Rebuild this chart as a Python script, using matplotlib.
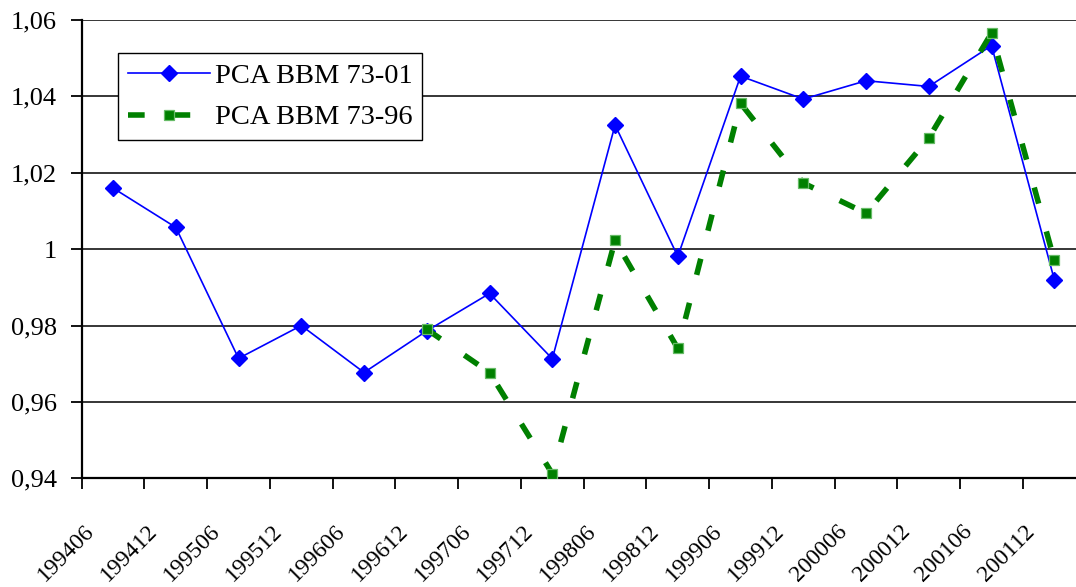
import matplotlib
matplotlib.use("Agg")
import matplotlib.pyplot as plt
import matplotlib.transforms as mtransforms
from matplotlib.ticker import FixedLocator, FuncFormatter

# Semi-annual periods
periods = ["199406", "199412", "199506", "199512", "199606", "199612",
           "199706", "199712", "199806", "199812", "199906", "199912",
           "200006", "200012", "200106", "200112"]

# PCA BBM estimated on 1973-2001
pca_73_01 = [1.016, 1.0057, 0.9714, 0.980, 0.9677, 0.9786, 0.9884, 0.9713,
             1.0325, 0.9981, 1.0453, 1.0393, 1.0441, 1.0426, 1.0533, 0.9920]

# PCA BBM estimated on 1973-1996 (available from 199612)
pca_73_96_start = 5
pca_73_96 = [0.979, 0.9677, 0.9412, 1.0023, 0.974, 1.0382, 1.0173, 1.0094,
             1.0291, 1.0566, 0.9971]

y_ticks = [0.94, 0.96, 0.98, 1.00, 1.02, 1.04, 1.06]

FONT = ["Liberation Serif", "DejaVu Serif"]
plt.rcParams["font.family"] = FONT
FS = 19
FS_X = 17
FS_LEG = 20.5

fig = plt.figure(figsize=(10.76, 5.87), dpi=100)
ax = fig.add_axes([0.0759, 0.1852, 0.9331, 0.7807])

x_blue = [i + 0.5 for i in range(len(periods))]
x_green = [pca_73_96_start + i + 0.5 for i in range(len(pca_73_96))]

ax.plot(x_blue, pca_73_01, color="#0000FF", lw=1.2, marker="D", ms=8,
        mfc="#0000FF", mec="#0000FF", label="PCA BBM 73-01", zorder=3)
ax.plot(x_green, pca_73_96, color="#008000", lw=4.0, dashes=(3.0, 5.2),
        marker="s", ms=7, mfc="#008000", mec="#66bb66", mew=0.9,
        label="PCA BBM 73-96", zorder=4)

ax.set_xlim(0, len(periods))
ax.set_ylim(0.94, 1.06)

ax.yaxis.set_major_locator(FixedLocator(y_ticks))

def comma_fmt(v, pos):
    s = f"{v:.2f}".rstrip("0").rstrip(".")
    return s.replace(".", ",")

ax.yaxis.set_major_formatter(FuncFormatter(comma_fmt))
ax.grid(axis="y", color="black", lw=1.1)
ax.set_axisbelow(True)

# boundaries carry tick marks, centres carry labels
ax.set_xticks(range(len(periods) + 1))
ax.set_xticklabels([])
ax.set_xticks(x_blue, minor=True)
ax.set_xticklabels(periods, minor=True, rotation=45, ha="center",
                   va="center", fontsize=FS_X)
ax.tick_params(axis="x", which="minor", length=0, pad=0)
ax.tick_params(axis="x", which="major", length=8, width=1.3, direction="out")
ax.tick_params(axis="y", length=8, width=1.3, direction="out", pad=10,
               labelsize=FS)

shift = mtransforms.ScaledTranslation(-47 / 100, -75 / 100, fig.dpi_scale_trans)
for lbl in ax.get_xticklabels(minor=True):
    lbl.set_transform(lbl.get_transform() + shift)

for side in ("top", "right"):
    ax.spines[side].set_visible(False)
for side in ("left", "bottom"):
    ax.spines[side].set_linewidth(1.6)
    ax.spines[side].set_color("black")

leg = ax.legend(loc="upper left", bbox_to_anchor=(0.036, 0.928),
                borderaxespad=0, fontsize=FS_LEG, frameon=True, fancybox=False,
                framealpha=1, edgecolor="black", handlelength=2.88,
                handletextpad=0.18, labelspacing=0.55, borderpad=0.35)
leg.get_frame().set_linewidth(1.0)

fig.savefig("out.png", dpi=100)
